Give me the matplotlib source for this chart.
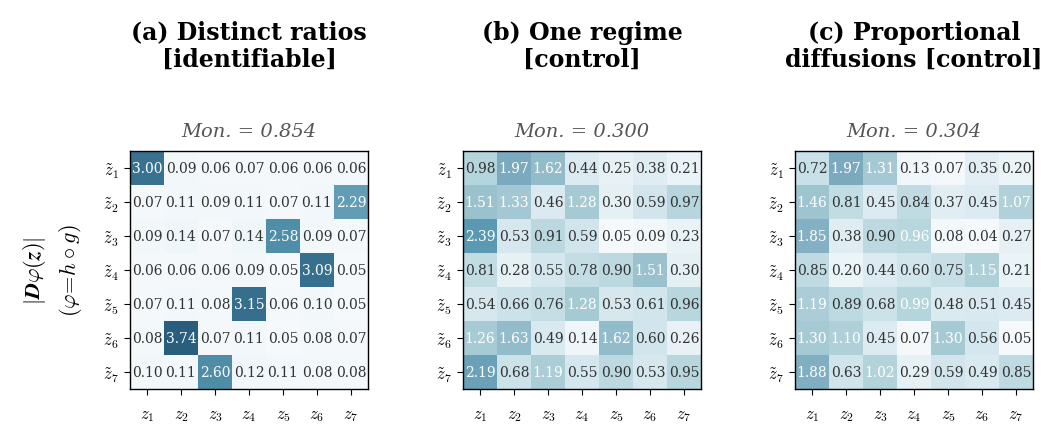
import numpy as np
import matplotlib
matplotlib.use("Agg")
import matplotlib.pyplot as plt
from matplotlib.colors import LinearSegmentedColormap

plt.rcParams['font.family'] = 'DejaVu Serif'
plt.rcParams['mathtext.fontset'] = 'cm'

titles = ["(a) Distinct ratios\n[identifiable]",
          "(b) One regime\n[control]",
          "(c) Proportional\ndiffusions [control]"]
monotonicity = [0.854, 0.300, 0.304]

x_labels = [r"$z_{%d}$" % i for i in range(1, 8)]
y_labels = [r"$\tilde{z}_{%d}$" % i for i in range(1, 8)]

jac_a = np.array([
    [3.00, 0.09, 0.06, 0.07, 0.06, 0.06, 0.06],
    [0.07, 0.11, 0.09, 0.11, 0.07, 0.11, 2.29],
    [0.09, 0.14, 0.07, 0.14, 2.58, 0.09, 0.07],
    [0.06, 0.06, 0.06, 0.09, 0.05, 3.09, 0.05],
    [0.07, 0.11, 0.08, 3.15, 0.06, 0.10, 0.05],
    [0.08, 3.74, 0.07, 0.11, 0.05, 0.08, 0.07],
    [0.10, 0.11, 2.60, 0.12, 0.11, 0.08, 0.08],
])
jac_b = np.array([
    [0.98, 1.97, 1.62, 0.44, 0.25, 0.38, 0.21],
    [1.51, 1.33, 0.46, 1.28, 0.30, 0.59, 0.97],
    [2.39, 0.53, 0.91, 0.59, 0.05, 0.09, 0.23],
    [0.81, 0.28, 0.55, 0.78, 0.90, 1.51, 0.30],
    [0.54, 0.66, 0.76, 1.28, 0.53, 0.61, 0.96],
    [1.26, 1.63, 0.49, 0.14, 1.62, 0.60, 0.26],
    [2.19, 0.68, 1.19, 0.55, 0.90, 0.53, 0.95],
])
jac_c = np.array([
    [0.72, 1.97, 1.31, 0.13, 0.07, 0.35, 0.20],
    [1.46, 0.81, 0.45, 0.84, 0.37, 0.45, 1.07],
    [1.85, 0.38, 0.90, 0.96, 0.08, 0.04, 0.27],
    [0.85, 0.20, 0.44, 0.60, 0.75, 1.15, 0.21],
    [1.19, 0.89, 0.68, 0.99, 0.48, 0.51, 0.45],
    [1.30, 1.10, 0.45, 0.07, 1.30, 0.56, 0.05],
    [1.88, 0.63, 1.02, 0.29, 0.59, 0.49, 0.85],
])
matrices = [jac_a, jac_b, jac_c]

cmap = LinearSegmentedColormap.from_list("jac", [
    (0.00, "#f8fbfd"), (0.15, "#d4e7ee"), (0.27, "#b4d4dc"),
    (0.40, "#9cc3cf"), (0.53, "#7aaabf"), (0.65, "#5898b1"),
    (0.80, "#3a7392"), (1.00, "#2a5e7e")])
vmax = max(m.max() for m in matrices)

fig = plt.figure(figsize=(10.62, 4.39), dpi=100)
lefts = [130, 463, 795]
for k, (M, title, mon) in enumerate(zip(matrices, titles, monotonicity)):
    ax = fig.add_axes([lefts[k] / 1062, 49 / 439, 238 / 1062, 238 / 439])
    ax.imshow(M, cmap=cmap, vmin=0, vmax=vmax, aspect='auto')
    thr = 0.47 * M.max()
    for i in range(7):
        for j in range(7):
            v = M[i, j]
            ax.text(j, i, f"{v:.2f}", ha='center', va='center', fontsize=10,
                    color='white' if v > thr else '#333333')
    ax.set_xticks(range(7))
    ax.set_xticklabels(x_labels, fontsize=12)
    ax.set_yticks(range(7))
    ax.set_yticklabels(y_labels, fontsize=12)
    ax.tick_params(axis='x', pad=8, length=4)
    ax.tick_params(axis='y', pad=4, length=4)
    for s in ax.spines.values():
        s.set_linewidth(1.0)
    ax.set_title(f"Mon. = {mon:.3f}", fontsize=14, style='italic',
                 color='#555555', pad=11)
    fig.text((lefts[k] + 119) / 1062, 1 - 46 / 439, title,
             ha='center', va='center', fontsize=17, fontweight='bold',
             linespacing=1.15)

fig.text(35 / 1062, 1 - 271 / 439, r"$|\boldsymbol{D}\varphi(\boldsymbol{z})|$",
         rotation=90, ha='center', va='center', fontsize=16)
fig.text(70 / 1062, 1 - 271 / 439, r"$(\varphi\!=\!h\circ g)$",
         rotation=90, ha='center', va='center', fontsize=16)

fig.savefig("out.png", dpi=100)
